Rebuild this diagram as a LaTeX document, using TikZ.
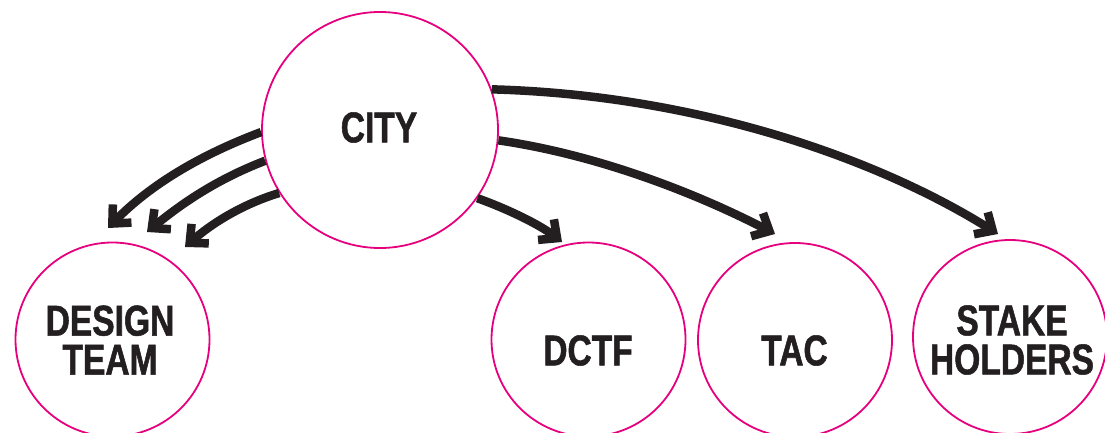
\documentclass[tikz,border=0pt]{standalone}
\usepackage{fontspec}
\setmainfont{Liberation Sans}[FakeStretch=0.78, BoldFeatures={FakeBold=1.2}]
\usetikzlibrary{arrows.meta}
\definecolor{pinkline}{RGB}{230,0,126}
\definecolor{inkblack}{RGB}{35,31,32}
\tikzset{
  bigcirc/.style={circle, draw=pinkline, line width=1.8pt, inner sep=0pt, minimum size=236pt},
  smallcirc/.style={circle, draw=pinkline, line width=1.8pt, inner sep=0pt, minimum size=194pt},
  lbl/.style={inner sep=0pt, align=center, text=inkblack, font=\fontsize{43}{39}\selectfont\bfseries},
  arr/.style={draw=inkblack, line width=8.5pt, -{Straight Barb[length=14pt,width=26pt]}}
}
\begin{document}
\begin{tikzpicture}[x=1pt, y=-1pt]
\useasboundingbox (0,0) rectangle (1105,433);
\node[bigcirc] (city) at (380,130) {};
\node[smallcirc] (dt) at (112.5,339.5) {};
\node[smallcirc] (dctf) at (588.5,339.5) {};
\node[smallcirc] (tac) at (795,340) {};
\node[smallcirc] (sh) at (1010,337) {};
\node[lbl] (cityT) at (379,127.5) {CITY};
\node[lbl] (dtT) at (110,340) {DESIGN\\TEAM};
\node[lbl] (dctfT) at (588,350.5) {DCTF};
\node[lbl] (tacT) at (794.5,350.5) {TAC};
\node[lbl] (shT) at (1012,340) {STAKE\\HOLDERS};
\coordinate (t1) at (108,228);
\coordinate (t2) at (147,232);
\coordinate (t3) at (185,247);
\coordinate (t4) at (562,242);
\coordinate (t5) at (775,234);
\coordinate (t6) at (998,234);
\draw[arr] (city.181) .. controls (200,155) and (150,185) .. (t1);
\draw[arr] (city.195) .. controls (215,180) and (180,205) .. (t2);
\draw[arr] (city.212) .. controls (240,205) and (210,225) .. (t3);
\draw[arr] (city.325) .. controls (510,210) and (540,225) .. (t4);
\draw[arr] (city.355) .. controls (600,155) and (700,195) .. (t5);
\draw[arr] (city.20) .. controls (700,95) and (880,160) .. (t6);
\end{tikzpicture}
\end{document}
